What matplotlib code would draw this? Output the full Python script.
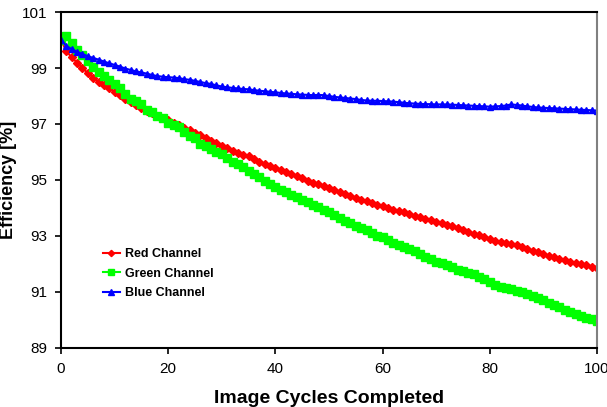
import numpy as np
import matplotlib.pyplot as plt

plt.rcParams['font.family'] = ['Liberation Sans', 'DejaVu Sans']

cycles = list(range(0, 101))

red = [100.0, 99.6, 99.38, 99.19, 99.0, 98.82, 98.66, 98.51, 98.39, 98.27,
       98.15, 98.02, 97.9, 97.78, 97.67, 97.57, 97.47, 97.38, 97.3, 97.22,
       97.15, 97.04, 96.95, 96.87, 96.79, 96.69, 96.6, 96.5, 96.41, 96.32,
       96.23, 96.14, 96.05, 95.98, 95.91, 95.84, 95.75, 95.66, 95.58, 95.5,
       95.43, 95.36, 95.29, 95.22, 95.14, 95.06, 94.98, 94.91, 94.85, 94.8,
       94.73, 94.65, 94.58, 94.51, 94.44, 94.37, 94.3, 94.25, 94.18, 94.12,
       94.06, 94.0, 93.94, 93.89, 93.84, 93.78, 93.73, 93.68, 93.62, 93.56,
       93.5, 93.45, 93.39, 93.34, 93.29, 93.22, 93.14, 93.08, 93.02, 92.95,
       92.88, 92.83, 92.78, 92.74, 92.71, 92.68, 92.62, 92.55, 92.48, 92.42,
       92.36, 92.3, 92.24, 92.19, 92.13, 92.08, 92.03, 91.99, 91.95, 91.91,
       91.86]

green = [100.0, 100.14, 99.88, 99.65, 99.45, 99.24, 99.05, 98.87, 98.72, 98.58,
         98.44, 98.28, 98.06, 97.9, 97.82, 97.7, 97.5, 97.43, 97.3, 97.2,
         97.05, 96.97, 96.88, 96.72, 96.58, 96.5, 96.3, 96.2, 96.1, 96.0,
         95.92, 95.78, 95.66, 95.57, 95.48, 95.33, 95.22, 95.12, 94.98, 94.86,
         94.76, 94.66, 94.56, 94.47, 94.38, 94.29, 94.2, 94.11, 94.02, 93.93,
         93.85, 93.74, 93.63, 93.54, 93.45, 93.37, 93.3, 93.2, 93.11, 93.0,
         92.95, 92.85, 92.75, 92.68, 92.6, 92.55, 92.45, 92.35, 92.25, 92.18,
         92.08, 92.03, 91.97, 91.9, 91.8, 91.75, 91.69, 91.63, 91.55, 91.46,
         91.37, 91.25, 91.17, 91.14, 91.1, 91.05, 91.0, 90.94, 90.87, 90.8,
         90.7, 90.6, 90.53, 90.45, 90.37, 90.3, 90.22, 90.14, 90.08, 90.02,
         89.96]

blue = [100.0, 99.79, 99.67, 99.58, 99.5, 99.42, 99.36, 99.3, 99.23, 99.17,
        99.11, 99.05, 98.98, 98.93, 98.88, 98.84, 98.8, 98.75, 98.71, 98.69,
        98.67, 98.66, 98.64, 98.6, 98.58, 98.54, 98.5, 98.46, 98.43, 98.38,
        98.34, 98.31, 98.29, 98.27, 98.25, 98.24, 98.21, 98.19, 98.17, 98.15,
        98.13, 98.11, 98.09, 98.08, 98.06, 98.05, 98.04, 98.03, 98.04, 98.03,
        98.0, 97.97, 97.95, 97.93, 97.91, 97.89, 97.86, 97.84, 97.83, 97.83,
        97.82, 97.81, 97.8, 97.78, 97.76, 97.74, 97.73, 97.72, 97.71, 97.71,
        97.7, 97.7, 97.7, 97.69, 97.68, 97.67, 97.66, 97.65, 97.64, 97.63,
        97.62, 97.63, 97.64, 97.66, 97.7, 97.68, 97.66, 97.63, 97.61, 97.59,
        97.58, 97.57, 97.56, 97.55, 97.54, 97.53, 97.52, 97.51, 97.5, 97.49,
        97.48]

xticks = [0, 20, 40, 60, 80, 100]
yticks = [89, 91, 93, 95, 97, 99, 101]

fig = plt.figure(figsize=(6.07, 4.07), dpi=100)
ax = fig.add_axes([0.1005, 0.145, 0.883, 0.8255])

ax.plot(cycles, red, color='#ff0000', marker='D', ms=4, lw=1.5, label='Red Channel')
ax.plot(cycles, green, color='#00ff00', marker='s', ms=5.5, lw=1.5, label='Green Channel')
ax.plot(cycles, blue, color='#0000ff', marker='^', ms=5, lw=1.5, label='Blue Channel')

ax.set_xlim(0, 100)
ax.set_ylim(89, 101)
ax.set_xticks(xticks)
ax.set_yticks(yticks)
ax.tick_params(labelsize=11, length=4, width=1.2, pad=6)
ax.spines['left'].set_linewidth(1.5)
ax.spines['bottom'].set_linewidth(1.5)
ax.spines['top'].set_linewidth(1.5)
ax.spines['right'].set_linewidth(1.5)
ax.spines['right'].set_color('#808080')

ax.set_xlabel('Image Cycles Completed', fontsize=14, fontweight='bold', labelpad=10)
ax.set_ylabel('Efficiency [%]', fontsize=13, fontweight='bold', labelpad=3)

leg = ax.legend(loc='upper left', bbox_to_anchor=(0.058, 0.33), frameon=False,
                prop={'weight': 'bold', 'size': 9}, handlelength=1.3,
                handletextpad=0.4, labelspacing=0.6, markerscale=0.8)

fig.savefig('out.png', dpi=100)
